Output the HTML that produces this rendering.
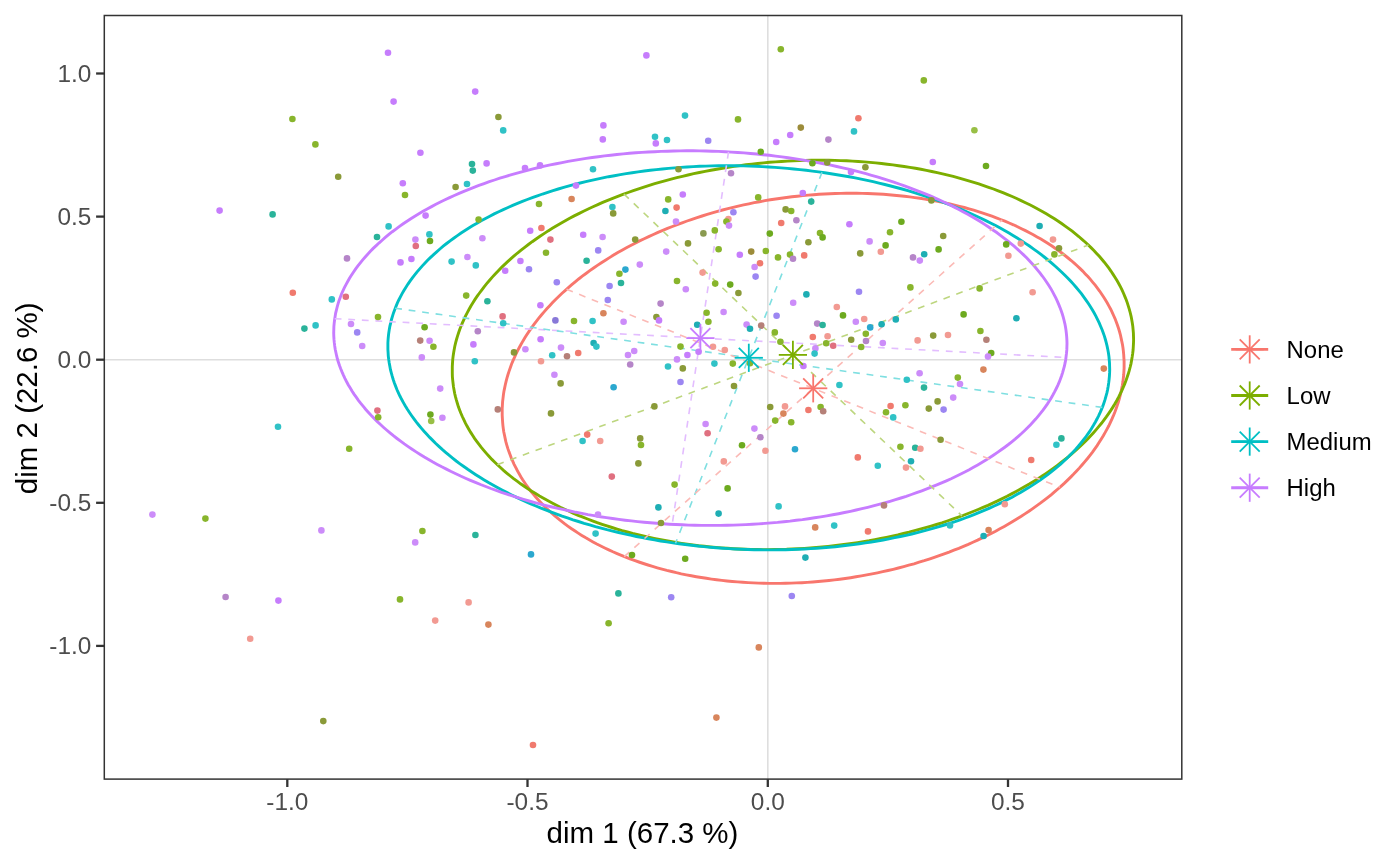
<!DOCTYPE html>
<html><head><meta charset="utf-8"><style>
html,body{margin:0;padding:0;background:#fff;}
svg{display:block;will-change:transform;}
text{font-family:"Liberation Sans",sans-serif;}
.tk{font-size:24.4px;fill:#4D4D4D;}
.ti{font-size:29.5px;fill:#000;}
.lg{font-size:24.4px;fill:#000;}
</style></head><body>
<svg width="1400" height="865" viewBox="0 0 1400 865">
<rect width="1400" height="865" fill="#fff"/>
<line x1="104.3" y1="359.7" x2="1181.8" y2="359.7" stroke="#DEDEDE" stroke-width="1.6"/>
<line x1="767.8" y1="15.5" x2="767.8" y2="779.1" stroke="#DEDEDE" stroke-width="1.6"/>
<path d="M625.7 557.1 L621.4 555.4 L617.1 553.6 L612.9 551.8 L608.8 549.9 L604.8 548.0 L600.8 546.0 L596.8 544.0 L593.0 541.9 L589.2 539.8 L585.4 537.6 L581.8 535.4 L578.2 533.1 L574.7 530.8 L571.2 528.5 L567.8 526.1 L564.5 523.7 L561.3 521.2 L558.2 518.7 L555.1 516.1 L552.1 513.5 L549.2 510.9 L546.4 508.2 L543.6 505.5 L541.0 502.8 L538.4 500.0 L535.9 497.2 L533.5 494.4 L531.1 491.5 L528.9 488.6 L526.7 485.7 L524.7 482.7 L522.7 479.7 L520.8 476.7 L519.0 473.6 L517.3 470.5 L515.7 467.4 L514.1 464.3 L512.7 461.2 L511.3 458.0 L510.1 454.8 L508.9 451.6 L507.8 448.4 L506.8 445.1 L505.9 441.9 L505.2 438.6 L504.5 435.3 L503.8 432.0 L503.3 428.6 L502.9 425.3 L502.6 422.0 L502.4 418.6 L502.2 415.2 L502.2 411.9 L502.2 408.5 L502.4 405.1 L502.6 401.7 L503.0 398.3 L503.4 394.9 L503.9 391.5 L504.6 388.1 L505.3 384.7 L506.1 381.3 L507.0 377.9 L508.0 374.5 L509.1 371.1 L510.3 367.7 L511.5 364.3 L512.9 360.9 L514.4 357.6 L515.9 354.2 L517.5 350.9 L519.3 347.5 L521.1 344.2 L523.0 340.9 L525.0 337.6 L527.1 334.3 L529.2 331.1 L531.5 327.8 L533.8 324.6 L536.3 321.4 L538.8 318.2 L541.4 315.0 L544.1 311.9 L546.8 308.8 L549.7 305.7 L552.6 302.6 L555.6 299.5 L558.7 296.5 L561.8 293.5 L565.1 290.6 L568.4 287.6 L571.8 284.7 L575.2 281.9 L578.7 279.0 L582.3 276.2 L586.0 273.5 L589.8 270.7 L593.6 268.0 L597.4 265.4 L601.4 262.7 L605.4 260.2 L609.5 257.6 L613.6 255.1 L617.8 252.6 L622.0 250.2 L626.4 247.8 L630.7 245.5 L635.1 243.2 L639.6 240.9 L644.2 238.7 L648.7 236.6 L653.4 234.5 L658.0 232.4 L662.8 230.4 L667.5 228.4 L672.4 226.5 L677.2 224.6 L682.1 222.8 L687.1 221.0 L692.0 219.3 L697.1 217.6 L702.1 216.0 L707.2 214.4 L712.3 212.9 L717.5 211.4 L722.6 210.0 L727.9 208.7 L733.1 207.4 L738.3 206.1 L743.6 204.9 L748.9 203.8 L754.2 202.7 L759.6 201.7 L764.9 200.7 L770.3 199.8 L775.7 199.0 L781.1 198.2 L786.5 197.5 L791.9 196.8 L797.3 196.2 L802.7 195.6 L808.2 195.1 L813.6 194.7 L819.0 194.3 L824.4 194.0 L829.9 193.7 L835.3 193.5 L840.7 193.4 L846.1 193.3 L851.5 193.2 L856.9 193.3 L862.2 193.4 L867.6 193.5 L872.9 193.7 L878.2 194.0 L883.5 194.3 L888.8 194.7 L894.0 195.2 L899.3 195.7 L904.5 196.3 L909.7 196.9 L914.8 197.6 L919.9 198.3 L925.0 199.1 L930.0 200.0 L935.0 200.9 L940.0 201.8 L945.0 202.9 L949.9 204.0 L954.7 205.1 L959.5 206.3 L964.3 207.5 L969.0 208.8 L973.7 210.2 L978.3 211.6 L982.9 213.1 L987.4 214.6 L991.9 216.2 L996.3 217.8 L1000.6 219.5 L1004.9 221.2 L1009.2 223.0 L1013.4 224.8 L1017.5 226.7 L1021.5 228.7 L1025.5 230.6 L1029.5 232.7 L1033.3 234.7 L1037.1 236.9 L1040.9 239.0 L1044.5 241.3 L1048.1 243.5 L1051.6 245.8 L1055.1 248.2 L1058.5 250.6 L1061.8 253.0 L1065.0 255.5 L1068.1 258.0 L1071.2 260.5 L1074.2 263.1 L1077.1 265.7 L1079.9 268.4 L1082.7 271.1 L1085.3 273.9 L1087.9 276.6 L1090.4 279.4 L1092.8 282.3 L1095.2 285.2 L1097.4 288.1 L1099.6 291.0 L1101.6 294.0 L1103.6 297.0 L1105.5 300.0 L1107.3 303.0 L1109.0 306.1 L1110.7 309.2 L1112.2 312.3 L1113.6 315.5 L1115.0 318.6 L1116.2 321.8 L1117.4 325.0 L1118.5 328.3 L1119.5 331.5 L1120.4 334.8 L1121.1 338.1 L1121.8 341.4 L1122.5 344.7 L1123.0 348.0 L1123.4 351.3 L1123.7 354.7 L1123.9 358.0 L1124.1 361.4 L1124.1 364.8 L1124.1 368.2 L1123.9 371.6 L1123.7 375.0 L1123.3 378.4 L1122.9 381.8 L1122.4 385.2 L1121.7 388.6 L1121.0 392.0 L1120.2 395.4 L1119.3 398.8 L1118.3 402.2 L1117.2 405.6 L1116.0 409.0 L1114.8 412.3 L1113.4 415.7 L1111.9 419.1 L1110.4 422.4 L1108.8 425.8 L1107.0 429.1 L1105.2 432.4 L1103.3 435.7 L1101.3 439.0 L1099.2 442.3 L1097.1 445.6 L1094.8 448.8 L1092.5 452.1 L1090.0 455.3 L1087.5 458.5 L1084.9 461.6 L1082.2 464.8 L1079.5 467.9 L1076.6 471.0 L1073.7 474.1 L1070.7 477.1 L1067.6 480.1 L1064.5 483.1 L1061.2 486.1 L1057.9 489.0 L1054.5 491.9 L1051.1 494.8 L1047.6 497.6 L1044.0 500.4 L1040.3 503.2 L1036.5 505.9 L1032.7 508.6 L1028.9 511.3 L1024.9 513.9 L1020.9 516.5 L1016.8 519.0 L1012.7 521.5 L1008.5 524.0 L1004.3 526.4 L999.9 528.8 L995.6 531.2 L991.2 533.5 L986.7 535.7 L982.2 537.9 L977.6 540.1 L972.9 542.2 L968.3 544.3 L963.5 546.3 L958.8 548.3 L953.9 550.2 L949.1 552.1 L944.2 553.9 L939.2 555.7 L934.3 557.4 L929.2 559.1 L924.2 560.7 L919.1 562.2 L914.0 563.8 L908.8 565.2 L903.7 566.6 L898.4 568.0 L893.2 569.3 L888.0 570.5 L882.7 571.7 L877.4 572.8 L872.1 573.9 L866.7 574.9 L861.4 575.9 L856.0 576.8 L850.6 577.7 L845.2 578.5 L839.8 579.2 L834.4 579.9 L829.0 580.5 L823.6 581.0 L818.1 581.5 L812.7 582.0 L807.3 582.4 L801.9 582.7 L796.4 582.9 L791.0 583.1 L785.6 583.3 L780.2 583.4 L774.8 583.4 L769.4 583.4 L764.1 583.3 L758.7 583.1 L753.4 582.9 L748.1 582.6 L742.8 582.3 L737.5 581.9 L732.3 581.5 L727.0 581.0 L721.8 580.4 L716.6 579.8 L711.5 579.1 L706.4 578.3 L701.3 577.5 L696.3 576.7 L691.3 575.8 L686.3 574.8 L681.3 573.8 L676.4 572.7 L671.6 571.5 L666.8 570.4 L662.0 569.1 L657.3 567.8 L652.6 566.4 L648.0 565.0 L643.4 563.5 L638.9 562.0 L634.4 560.4 L630.0 558.8 L625.7 557.1Z" fill="none" stroke="#F8766D" stroke-width="2.9"/>
<path d="M628.1 192.5 L622.9 194.4 L617.8 196.3 L612.7 198.3 L607.7 200.3 L602.7 202.4 L597.8 204.6 L593.0 206.8 L588.2 209.0 L583.5 211.2 L578.8 213.6 L574.2 215.9 L569.7 218.3 L565.3 220.8 L560.9 223.2 L556.6 225.8 L552.3 228.3 L548.1 230.9 L544.0 233.6 L540.0 236.2 L536.1 239.0 L532.2 241.7 L528.4 244.5 L524.7 247.3 L521.1 250.2 L517.5 253.0 L514.1 255.9 L510.7 258.9 L507.4 261.9 L504.2 264.9 L501.1 267.9 L498.1 270.9 L495.2 274.0 L492.3 277.1 L489.6 280.2 L486.9 283.4 L484.3 286.6 L481.9 289.8 L479.5 293.0 L477.2 296.2 L475.0 299.4 L472.9 302.7 L470.9 306.0 L469.1 309.3 L467.3 312.6 L465.6 315.9 L464.0 319.3 L462.5 322.6 L461.1 326.0 L459.8 329.3 L458.6 332.7 L457.5 336.1 L456.5 339.5 L455.6 342.8 L454.8 346.2 L454.2 349.6 L453.6 353.0 L453.1 356.4 L452.7 359.8 L452.5 363.2 L452.3 366.6 L452.3 370.0 L452.3 373.4 L452.4 376.8 L452.7 380.1 L453.1 383.5 L453.5 386.9 L454.1 390.2 L454.7 393.5 L455.5 396.9 L456.4 400.2 L457.4 403.5 L458.4 406.8 L459.6 410.0 L460.9 413.3 L462.3 416.5 L463.8 419.7 L465.3 422.9 L467.0 426.1 L468.8 429.2 L470.7 432.4 L472.7 435.5 L474.7 438.6 L476.9 441.6 L479.2 444.6 L481.5 447.6 L484.0 450.6 L486.6 453.6 L489.2 456.5 L491.9 459.4 L494.8 462.2 L497.7 465.0 L500.7 467.8 L503.8 470.6 L507.0 473.3 L510.3 476.0 L513.6 478.6 L517.1 481.2 L520.6 483.8 L524.2 486.3 L527.9 488.8 L531.7 491.2 L535.6 493.6 L539.5 496.0 L543.5 498.3 L547.6 500.6 L551.7 502.8 L556.0 505.0 L560.3 507.2 L564.7 509.3 L569.1 511.3 L573.6 513.3 L578.2 515.3 L582.9 517.2 L587.6 519.0 L592.4 520.8 L597.2 522.6 L602.1 524.3 L607.0 525.9 L612.0 527.5 L617.1 529.1 L622.2 530.6 L627.4 532.0 L632.6 533.4 L637.9 534.7 L643.2 536.0 L648.6 537.2 L654.0 538.4 L659.4 539.5 L664.9 540.5 L670.5 541.5 L676.0 542.5 L681.6 543.4 L687.3 544.2 L692.9 544.9 L698.6 545.7 L704.4 546.3 L710.1 546.9 L715.9 547.4 L721.7 547.9 L727.5 548.3 L733.4 548.7 L739.2 549.0 L745.1 549.2 L751.0 549.4 L756.9 549.5 L762.8 549.6 L768.7 549.6 L774.7 549.5 L780.6 549.4 L786.6 549.3 L792.5 549.0 L798.5 548.7 L804.4 548.4 L810.3 548.0 L816.3 547.5 L822.2 547.0 L828.1 546.4 L834.0 545.7 L839.9 545.0 L845.8 544.3 L851.7 543.5 L857.5 542.6 L863.3 541.6 L869.1 540.7 L874.9 539.6 L880.7 538.5 L886.4 537.3 L892.1 536.1 L897.8 534.9 L903.4 533.5 L909.0 532.2 L914.6 530.7 L920.1 529.2 L925.6 527.7 L931.1 526.1 L936.5 524.5 L941.9 522.8 L947.2 521.0 L952.5 519.2 L957.7 517.4 L962.9 515.5 L968.0 513.5 L973.1 511.5 L978.1 509.5 L983.1 507.4 L988.0 505.3 L992.8 503.1 L997.6 500.9 L1002.3 498.6 L1007.0 496.3 L1011.6 493.9 L1016.1 491.5 L1020.5 489.1 L1024.9 486.6 L1029.3 484.1 L1033.5 481.5 L1037.7 478.9 L1041.8 476.3 L1045.8 473.6 L1049.7 470.9 L1053.6 468.1 L1057.4 465.3 L1061.1 462.5 L1064.7 459.7 L1068.3 456.8 L1071.7 453.9 L1075.1 450.9 L1078.4 448.0 L1081.6 445.0 L1084.7 442.0 L1087.7 438.9 L1090.7 435.8 L1093.5 432.7 L1096.2 429.6 L1098.9 426.4 L1101.5 423.3 L1103.9 420.1 L1106.3 416.9 L1108.6 413.6 L1110.8 410.4 L1112.9 407.1 L1114.9 403.8 L1116.8 400.5 L1118.6 397.2 L1120.2 393.9 L1121.8 390.6 L1123.3 387.2 L1124.7 383.9 L1126.0 380.5 L1127.2 377.1 L1128.3 373.8 L1129.3 370.4 L1130.2 367.0 L1131.0 363.6 L1131.6 360.2 L1132.2 356.8 L1132.7 353.4 L1133.1 350.0 L1133.3 346.6 L1133.5 343.2 L1133.6 339.8 L1133.5 336.4 L1133.4 333.1 L1133.1 329.7 L1132.8 326.3 L1132.3 323.0 L1131.7 319.6 L1131.1 316.3 L1130.3 313.0 L1129.4 309.6 L1128.4 306.4 L1127.4 303.1 L1126.2 299.8 L1124.9 296.6 L1123.5 293.3 L1122.1 290.1 L1120.5 286.9 L1118.8 283.7 L1117.0 280.6 L1115.1 277.5 L1113.1 274.4 L1111.1 271.3 L1108.9 268.2 L1106.6 265.2 L1104.3 262.2 L1101.8 259.2 L1099.3 256.3 L1096.6 253.4 L1093.9 250.5 L1091.0 247.6 L1088.1 244.8 L1085.1 242.0 L1082.0 239.3 L1078.8 236.5 L1075.5 233.9 L1072.2 231.2 L1068.7 228.6 L1065.2 226.1 L1061.6 223.5 L1057.9 221.0 L1054.1 218.6 L1050.3 216.2 L1046.3 213.8 L1042.3 211.5 L1038.2 209.2 L1034.1 207.0 L1029.8 204.8 L1025.5 202.7 L1021.1 200.6 L1016.7 198.5 L1012.2 196.5 L1007.6 194.6 L1002.9 192.7 L998.2 190.8 L993.5 189.0 L988.6 187.3 L983.7 185.6 L978.8 183.9 L973.8 182.3 L968.7 180.8 L963.6 179.3 L958.4 177.8 L953.2 176.4 L947.9 175.1 L942.6 173.8 L937.2 172.6 L931.8 171.5 L926.4 170.3 L920.9 169.3 L915.4 168.3 L909.8 167.4 L904.2 166.5 L898.6 165.7 L892.9 164.9 L887.2 164.2 L881.5 163.5 L875.7 162.9 L869.9 162.4 L864.1 161.9 L858.3 161.5 L852.5 161.1 L846.6 160.8 L840.7 160.6 L834.8 160.4 L828.9 160.3 L823.0 160.2 L817.1 160.2 L811.1 160.3 L805.2 160.4 L799.2 160.6 L793.3 160.8 L787.4 161.1 L781.4 161.5 L775.5 161.9 L769.5 162.3 L763.6 162.9 L757.7 163.5 L751.8 164.1 L745.9 164.8 L740.0 165.6 L734.1 166.4 L728.3 167.3 L722.5 168.2 L716.7 169.2 L710.9 170.2 L705.1 171.3 L699.4 172.5 L693.7 173.7 L688.0 175.0 L682.4 176.3 L676.8 177.7 L671.2 179.1 L665.7 180.6 L660.2 182.1 L654.7 183.7 L649.3 185.4 L643.9 187.1 L638.6 188.8 L633.3 190.6 L628.1 192.5Z" fill="none" stroke="#7CAE00" stroke-width="2.9"/>
<path d="M824.7 172.8 L818.6 171.9 L812.4 171.1 L806.2 170.3 L799.9 169.6 L793.7 169.0 L787.4 168.4 L781.2 167.9 L774.9 167.4 L768.6 167.0 L762.3 166.6 L756.0 166.3 L749.7 166.1 L743.4 165.9 L737.1 165.8 L730.8 165.8 L724.5 165.8 L718.3 165.8 L712.0 165.9 L705.7 166.1 L699.5 166.3 L693.2 166.6 L687.0 167.0 L680.8 167.4 L674.7 167.9 L668.5 168.4 L662.4 169.0 L656.3 169.6 L650.2 170.3 L644.2 171.0 L638.1 171.9 L632.2 172.7 L626.2 173.6 L620.3 174.6 L614.4 175.7 L608.6 176.7 L602.8 177.9 L597.1 179.1 L591.4 180.4 L585.8 181.7 L580.2 183.0 L574.6 184.4 L569.1 185.9 L563.7 187.4 L558.3 189.0 L553.0 190.6 L547.7 192.3 L542.5 194.0 L537.4 195.8 L532.3 197.6 L527.3 199.5 L522.4 201.4 L517.5 203.4 L512.7 205.4 L508.0 207.5 L503.3 209.6 L498.7 211.7 L494.2 213.9 L489.8 216.2 L485.5 218.5 L481.2 220.8 L477.0 223.2 L472.9 225.6 L468.9 228.0 L465.0 230.5 L461.1 233.0 L457.4 235.6 L453.7 238.2 L450.1 240.8 L446.6 243.5 L443.2 246.2 L439.9 249.0 L436.7 251.8 L433.6 254.6 L430.6 257.4 L427.6 260.3 L424.8 263.2 L422.1 266.1 L419.5 269.1 L416.9 272.1 L414.5 275.1 L412.2 278.1 L410.0 281.2 L407.8 284.3 L405.8 287.4 L403.9 290.5 L402.1 293.6 L400.4 296.8 L398.8 300.0 L397.3 303.2 L396.0 306.4 L394.7 309.7 L393.5 312.9 L392.5 316.2 L391.5 319.5 L390.7 322.8 L389.9 326.1 L389.3 329.4 L388.8 332.7 L388.4 336.0 L388.1 339.3 L387.9 342.7 L387.9 346.0 L387.9 349.4 L388.1 352.7 L388.3 356.1 L388.7 359.4 L389.2 362.8 L389.8 366.1 L390.4 369.5 L391.3 372.8 L392.2 376.2 L393.2 379.5 L394.3 382.8 L395.6 386.1 L396.9 389.5 L398.4 392.8 L399.9 396.0 L401.6 399.3 L403.4 402.6 L405.2 405.8 L407.2 409.1 L409.3 412.3 L411.5 415.5 L413.8 418.7 L416.2 421.9 L418.7 425.0 L421.3 428.1 L424.0 431.3 L426.8 434.3 L429.7 437.4 L432.7 440.4 L435.8 443.5 L438.9 446.4 L442.2 449.4 L445.6 452.3 L449.0 455.2 L452.6 458.1 L456.2 461.0 L460.0 463.8 L463.8 466.5 L467.7 469.3 L471.7 472.0 L475.8 474.7 L479.9 477.3 L484.2 479.9 L488.5 482.5 L492.9 485.0 L497.4 487.5 L502.0 490.0 L506.6 492.4 L511.3 494.8 L516.1 497.1 L520.9 499.4 L525.8 501.6 L530.8 503.8 L535.9 506.0 L541.0 508.1 L546.2 510.1 L551.4 512.2 L556.7 514.1 L562.1 516.1 L567.5 517.9 L573.0 519.8 L578.5 521.5 L584.1 523.3 L589.7 524.9 L595.4 526.6 L601.1 528.1 L606.9 529.7 L612.7 531.1 L618.6 532.5 L624.5 533.9 L630.4 535.2 L636.4 536.5 L642.4 537.7 L648.4 538.8 L654.5 539.9 L660.6 541.0 L666.7 541.9 L672.8 542.9 L679.0 543.7 L685.2 544.5 L691.4 545.3 L697.6 546.0 L703.9 546.6 L710.1 547.2 L716.4 547.7 L722.7 548.2 L728.9 548.6 L735.2 549.0 L741.5 549.3 L747.8 549.5 L754.1 549.7 L760.4 549.8 L766.7 549.9 L773.0 549.9 L779.3 549.8 L785.6 549.7 L791.8 549.5 L798.1 549.3 L804.3 549.0 L810.5 548.6 L816.7 548.2 L822.9 547.8 L829.0 547.2 L835.2 546.7 L841.3 546.0 L847.3 545.3 L853.4 544.6 L859.4 543.8 L865.4 542.9 L871.3 542.0 L877.2 541.0 L883.1 540.0 L888.9 538.9 L894.7 537.7 L900.4 536.5 L906.1 535.3 L911.8 534.0 L917.4 532.6 L922.9 531.2 L928.4 529.7 L933.8 528.2 L939.2 526.6 L944.5 525.0 L949.8 523.3 L955.0 521.6 L960.1 519.8 L965.2 518.0 L970.2 516.1 L975.2 514.2 L980.0 512.2 L984.8 510.2 L989.6 508.1 L994.2 506.0 L998.8 503.9 L1003.3 501.7 L1007.7 499.4 L1012.1 497.2 L1016.3 494.8 L1020.5 492.5 L1024.6 490.0 L1028.7 487.6 L1032.6 485.1 L1036.4 482.6 L1040.2 480.0 L1043.9 477.4 L1047.4 474.8 L1050.9 472.1 L1054.3 469.4 L1057.6 466.6 L1060.9 463.9 L1064.0 461.0 L1067.0 458.2 L1069.9 455.3 L1072.7 452.4 L1075.5 449.5 L1078.1 446.5 L1080.6 443.5 L1083.0 440.5 L1085.4 437.5 L1087.6 434.4 L1089.7 431.4 L1091.7 428.2 L1093.6 425.1 L1095.4 422.0 L1097.1 418.8 L1098.7 415.6 L1100.2 412.4 L1101.6 409.2 L1102.9 405.9 L1104.0 402.7 L1105.1 399.4 L1106.0 396.1 L1106.9 392.9 L1107.6 389.6 L1108.2 386.2 L1108.7 382.9 L1109.1 379.6 L1109.4 376.3 L1109.6 372.9 L1109.7 369.6 L1109.6 366.2 L1109.5 362.9 L1109.2 359.5 L1108.9 356.2 L1108.4 352.8 L1107.8 349.5 L1107.1 346.1 L1106.3 342.8 L1105.4 339.5 L1104.4 336.1 L1103.2 332.8 L1102.0 329.5 L1100.6 326.2 L1099.2 322.9 L1097.6 319.6 L1096.0 316.3 L1094.2 313.0 L1092.3 309.8 L1090.3 306.5 L1088.2 303.3 L1086.0 300.1 L1083.7 296.9 L1081.4 293.7 L1078.9 290.6 L1076.3 287.5 L1073.6 284.4 L1070.8 281.3 L1067.9 278.2 L1064.9 275.2 L1061.8 272.2 L1058.6 269.2 L1055.3 266.2 L1052.0 263.3 L1048.5 260.4 L1044.9 257.5 L1041.3 254.7 L1037.6 251.8 L1033.7 249.1 L1029.8 246.3 L1025.8 243.6 L1021.8 240.9 L1017.6 238.3 L1013.4 235.7 L1009.0 233.1 L1004.6 230.6 L1000.2 228.1 L995.6 225.6 L991.0 223.2 L986.3 220.9 L981.5 218.5 L976.6 216.2 L971.7 214.0 L966.7 211.8 L961.7 209.6 L956.5 207.5 L951.4 205.5 L946.1 203.5 L940.8 201.5 L935.5 199.6 L930.0 197.7 L924.6 195.9 L919.0 194.1 L913.5 192.4 L907.8 190.7 L902.1 189.0 L896.4 187.5 L890.7 186.0 L884.8 184.5 L879.0 183.1 L873.1 181.7 L867.2 180.4 L861.2 179.1 L855.2 177.9 L849.2 176.8 L843.1 175.7 L837.0 174.7 L830.9 173.7 L824.7 172.8Z" fill="none" stroke="#00BFC4" stroke-width="2.9"/>
<path d="M731.3 152.1 L724.9 151.7 L718.5 151.4 L712.2 151.2 L705.8 151.0 L699.4 150.9 L693.0 150.8 L686.6 150.8 L680.2 150.9 L673.8 151.0 L667.4 151.2 L661.0 151.4 L654.7 151.7 L648.3 152.0 L642.0 152.4 L635.7 152.8 L629.4 153.3 L623.2 153.9 L616.9 154.5 L610.7 155.2 L604.5 155.9 L598.3 156.7 L592.2 157.5 L586.1 158.4 L580.1 159.4 L574.0 160.4 L568.0 161.4 L562.1 162.6 L556.2 163.7 L550.3 164.9 L544.5 166.2 L538.7 167.5 L533.0 168.9 L527.4 170.3 L521.7 171.8 L516.2 173.3 L510.7 174.9 L505.2 176.6 L499.8 178.2 L494.5 180.0 L489.3 181.7 L484.1 183.6 L478.9 185.4 L473.9 187.3 L468.9 189.3 L463.9 191.3 L459.1 193.4 L454.3 195.5 L449.6 197.6 L445.0 199.8 L440.4 202.0 L435.9 204.3 L431.6 206.6 L427.2 208.9 L423.0 211.3 L418.9 213.7 L414.8 216.2 L410.8 218.7 L407.0 221.2 L403.2 223.8 L399.5 226.4 L395.9 229.1 L392.3 231.7 L388.9 234.4 L385.6 237.2 L382.4 240.0 L379.2 242.8 L376.2 245.6 L373.2 248.4 L370.4 251.3 L367.7 254.2 L365.0 257.2 L362.5 260.1 L360.1 263.1 L357.7 266.1 L355.5 269.1 L353.4 272.2 L351.4 275.3 L349.5 278.3 L347.7 281.5 L346.0 284.6 L344.4 287.7 L342.9 290.9 L341.5 294.0 L340.3 297.2 L339.1 300.4 L338.1 303.6 L337.2 306.9 L336.4 310.1 L335.6 313.3 L335.1 316.6 L334.6 319.8 L334.2 323.1 L333.9 326.3 L333.8 329.6 L333.7 332.9 L333.8 336.1 L334.0 339.4 L334.3 342.7 L334.7 345.9 L335.2 349.2 L335.9 352.5 L336.6 355.7 L337.4 359.0 L338.4 362.2 L339.5 365.5 L340.7 368.7 L342.0 371.9 L343.4 375.1 L344.9 378.3 L346.5 381.5 L348.2 384.7 L350.1 387.8 L352.0 391.0 L354.0 394.1 L356.2 397.2 L358.4 400.3 L360.8 403.4 L363.3 406.4 L365.8 409.5 L368.5 412.5 L371.3 415.5 L374.2 418.4 L377.1 421.4 L380.2 424.3 L383.4 427.2 L386.6 430.0 L390.0 432.9 L393.4 435.7 L397.0 438.5 L400.6 441.2 L404.3 443.9 L408.2 446.6 L412.1 449.2 L416.1 451.9 L420.2 454.4 L424.3 457.0 L428.6 459.5 L432.9 462.0 L437.3 464.4 L441.8 466.8 L446.4 469.1 L451.1 471.5 L455.8 473.7 L460.6 476.0 L465.5 478.2 L470.4 480.3 L475.4 482.4 L480.5 484.5 L485.7 486.5 L490.9 488.5 L496.2 490.4 L501.5 492.3 L506.9 494.1 L512.4 495.9 L517.9 497.6 L523.5 499.3 L529.1 501.0 L534.8 502.6 L540.5 504.1 L546.3 505.6 L552.1 507.0 L558.0 508.4 L563.9 509.7 L569.9 511.0 L575.9 512.3 L581.9 513.4 L588.0 514.6 L594.1 515.6 L600.3 516.7 L606.4 517.6 L612.6 518.5 L618.9 519.4 L625.1 520.2 L631.4 520.9 L637.7 521.6 L644.0 522.2 L650.3 522.8 L656.7 523.3 L663.0 523.8 L669.4 524.2 L675.8 524.5 L682.2 524.8 L688.6 525.1 L694.9 525.2 L701.3 525.4 L707.7 525.4 L714.1 525.4 L720.5 525.4 L726.9 525.3 L733.3 525.1 L739.7 524.9 L746.0 524.6 L752.4 524.3 L758.7 523.9 L765.0 523.4 L771.3 522.9 L777.5 522.4 L783.8 521.7 L790.0 521.1 L796.2 520.3 L802.4 519.6 L808.5 518.7 L814.6 517.8 L820.7 516.9 L826.7 515.9 L832.7 514.8 L838.6 513.7 L844.5 512.5 L850.4 511.3 L856.2 510.0 L862.0 508.7 L867.7 507.3 L873.3 505.9 L879.0 504.4 L884.5 502.9 L890.0 501.3 L895.5 499.7 L900.9 498.0 L906.2 496.3 L911.4 494.5 L916.6 492.7 L921.8 490.8 L926.8 488.9 L931.8 486.9 L936.8 484.9 L941.6 482.9 L946.4 480.8 L951.1 478.7 L955.7 476.5 L960.3 474.2 L964.8 472.0 L969.2 469.7 L973.5 467.3 L977.7 464.9 L981.8 462.5 L985.9 460.1 L989.9 457.5 L993.7 455.0 L997.5 452.4 L1001.2 449.8 L1004.8 447.2 L1008.4 444.5 L1011.8 441.8 L1015.1 439.1 L1018.3 436.3 L1021.5 433.5 L1024.5 430.7 L1027.5 427.8 L1030.3 424.9 L1033.0 422.0 L1035.7 419.1 L1038.2 416.1 L1040.6 413.2 L1043.0 410.1 L1045.2 407.1 L1047.3 404.1 L1049.3 401.0 L1051.2 397.9 L1053.0 394.8 L1054.7 391.7 L1056.3 388.5 L1057.8 385.4 L1059.2 382.2 L1060.4 379.0 L1061.6 375.8 L1062.6 372.6 L1063.5 369.4 L1064.4 366.2 L1065.1 362.9 L1065.7 359.7 L1066.1 356.4 L1066.5 353.2 L1066.8 349.9 L1066.9 346.7 L1067.0 343.4 L1066.9 340.1 L1066.7 336.9 L1066.4 333.6 L1066.0 330.3 L1065.5 327.1 L1064.9 323.8 L1064.1 320.5 L1063.3 317.3 L1062.3 314.0 L1061.2 310.8 L1060.0 307.6 L1058.7 304.4 L1057.3 301.1 L1055.8 297.9 L1054.2 294.8 L1052.5 291.6 L1050.7 288.4 L1048.7 285.3 L1046.7 282.2 L1044.5 279.0 L1042.3 276.0 L1039.9 272.9 L1037.4 269.8 L1034.9 266.8 L1032.2 263.8 L1029.4 260.8 L1026.6 257.8 L1023.6 254.9 L1020.5 252.0 L1017.4 249.1 L1014.1 246.2 L1010.7 243.4 L1007.3 240.6 L1003.7 237.8 L1000.1 235.1 L996.4 232.3 L992.5 229.7 L988.6 227.0 L984.6 224.4 L980.6 221.8 L976.4 219.3 L972.1 216.8 L967.8 214.3 L963.4 211.9 L958.9 209.5 L954.3 207.1 L949.7 204.8 L944.9 202.5 L940.1 200.3 L935.2 198.1 L930.3 195.9 L925.3 193.8 L920.2 191.8 L915.0 189.8 L909.8 187.8 L904.5 185.9 L899.2 184.0 L893.8 182.1 L888.3 180.4 L882.8 178.6 L877.2 176.9 L871.6 175.3 L865.9 173.7 L860.2 172.2 L854.4 170.7 L848.6 169.2 L842.7 167.8 L836.8 166.5 L830.8 165.2 L824.8 164.0 L818.8 162.8 L812.7 161.7 L806.6 160.6 L800.5 159.6 L794.3 158.6 L788.1 157.7 L781.9 156.9 L775.6 156.1 L769.3 155.3 L763.0 154.7 L756.7 154.0 L750.4 153.5 L744.0 152.9 L737.7 152.5 L731.3 152.1Z" fill="none" stroke="#C77CFF" stroke-width="2.9"/>
<line x1="334.7" y1="318.7" x2="1066.0" y2="357.5" stroke="#E3BDFF" stroke-width="1.6" stroke-dasharray="6.8 6.8"/>
<line x1="728.5" y1="151.9" x2="672.2" y2="524.3" stroke="#E3BDFF" stroke-width="1.6" stroke-dasharray="6.8 6.8"/>
<line x1="395.2" y1="308.2" x2="1102.3" y2="407.4" stroke="#7FDFE1" stroke-width="1.6" stroke-dasharray="6.8 6.8"/>
<line x1="822.0" y1="172.4" x2="675.5" y2="543.3" stroke="#7FDFE1" stroke-width="1.6" stroke-dasharray="6.8 6.8"/>
<line x1="497.3" y1="464.7" x2="1088.5" y2="245.1" stroke="#BDD67F" stroke-width="1.6" stroke-dasharray="6.8 6.8"/>
<line x1="623.9" y1="194.0" x2="961.9" y2="515.8" stroke="#BDD67F" stroke-width="1.6" stroke-dasharray="6.8 6.8"/>
<line x1="566.5" y1="289.3" x2="1059.8" y2="487.3" stroke="#FBBAB6" stroke-width="1.6" stroke-dasharray="6.8 6.8"/>
<line x1="624.2" y1="556.6" x2="1002.1" y2="220.1" stroke="#FBBAB6" stroke-width="1.6" stroke-dasharray="6.8 6.8"/>
<circle cx="388" cy="52.7" r="3.3" fill="#C67DFC"/>
<circle cx="393.6" cy="101.6" r="3.3" fill="#C67DFC"/>
<circle cx="292.4" cy="119" r="3.3" fill="#88B52C"/>
<circle cx="315.4" cy="144.4" r="3.3" fill="#88B52C"/>
<circle cx="338.2" cy="176.8" r="3.3" fill="#8A9A38"/>
<circle cx="646.4" cy="55.4" r="3.3" fill="#C67DFC"/>
<circle cx="475.2" cy="91.6" r="3.3" fill="#C67DFC"/>
<circle cx="498.4" cy="117" r="3.3" fill="#8A9A38"/>
<circle cx="503.2" cy="130.4" r="3.3" fill="#30C2C6"/>
<circle cx="603.4" cy="125.4" r="3.3" fill="#C67DFC"/>
<circle cx="602.8" cy="139.4" r="3.3" fill="#C67DFC"/>
<circle cx="655" cy="136.8" r="3.3" fill="#30C2C6"/>
<circle cx="667" cy="140" r="3.3" fill="#30C2C6"/>
<circle cx="655.8" cy="143.4" r="3.3" fill="#C67DFC"/>
<circle cx="420.4" cy="152.8" r="3.3" fill="#C67DFC"/>
<circle cx="472" cy="164" r="3.3" fill="#2AB39A"/>
<circle cx="472.8" cy="170.6" r="3.3" fill="#2AB39A"/>
<circle cx="486.6" cy="163.4" r="3.3" fill="#C67DFC"/>
<circle cx="525" cy="168" r="3.3" fill="#C67DFC"/>
<circle cx="540" cy="165.4" r="3.3" fill="#C67DFC"/>
<circle cx="593" cy="169.2" r="3.3" fill="#30C2C6"/>
<circle cx="678.5" cy="169.2" r="3.3" fill="#8A9A38"/>
<circle cx="402.8" cy="183.2" r="3.3" fill="#C67DFC"/>
<circle cx="455.6" cy="187" r="3.3" fill="#8A9A38"/>
<circle cx="467" cy="184" r="3.3" fill="#30C2C6"/>
<circle cx="576" cy="185.6" r="3.3" fill="#C67DFC"/>
<circle cx="405" cy="195" r="3.3" fill="#88B52C"/>
<circle cx="780.8" cy="49.2" r="3.3" fill="#88B52C"/>
<circle cx="923.8" cy="80.4" r="3.3" fill="#88B52C"/>
<circle cx="685" cy="115.6" r="3.3" fill="#30C2C6"/>
<circle cx="738" cy="119.4" r="3.3" fill="#88B52C"/>
<circle cx="858.4" cy="118.2" r="3.3" fill="#F07A6E"/>
<circle cx="800.8" cy="127.6" r="3.3" fill="#9C8C3A"/>
<circle cx="790.2" cy="135" r="3.3" fill="#C67DFC"/>
<circle cx="776.2" cy="142" r="3.3" fill="#C67DFC"/>
<circle cx="854" cy="131.4" r="3.3" fill="#30C2C6"/>
<circle cx="708.2" cy="140.8" r="3.3" fill="#9C86F2"/>
<circle cx="828.4" cy="139.6" r="3.3" fill="#B585C8"/>
<circle cx="760.8" cy="151.8" r="3.3" fill="#6DAA1F"/>
<circle cx="812.4" cy="163.2" r="3.3" fill="#6DAA1F"/>
<circle cx="827.2" cy="162.4" r="3.3" fill="#8A9A38"/>
<circle cx="865.4" cy="167.2" r="3.3" fill="#8A9A38"/>
<circle cx="932.8" cy="162" r="3.3" fill="#C67DFC"/>
<circle cx="731" cy="173.2" r="3.3" fill="#B585C8"/>
<circle cx="851" cy="172" r="3.3" fill="#C67DFC"/>
<circle cx="682.8" cy="194.5" r="3.3" fill="#C67DFC"/>
<circle cx="802.8" cy="193" r="3.3" fill="#C67DFC"/>
<circle cx="974.4" cy="130.2" r="3.3" fill="#98BF45"/>
<circle cx="986" cy="166" r="3.3" fill="#6DAA1F"/>
<circle cx="219.6" cy="210.6" r="3.3" fill="#C67DFC"/>
<circle cx="272.6" cy="214.4" r="3.3" fill="#2AB39A"/>
<circle cx="388.6" cy="226.4" r="3.3" fill="#30C2C6"/>
<circle cx="377" cy="237" r="3.3" fill="#2AB39A"/>
<circle cx="347" cy="258.4" r="3.3" fill="#B585C8"/>
<circle cx="400.5" cy="262.4" r="3.3" fill="#C67DFC"/>
<circle cx="292.8" cy="292.8" r="3.3" fill="#F07A6E"/>
<circle cx="331.8" cy="299.4" r="3.3" fill="#30C2C6"/>
<circle cx="345.8" cy="296.8" r="3.3" fill="#E07080"/>
<circle cx="378" cy="317" r="3.3" fill="#88B52C"/>
<circle cx="304.4" cy="328.6" r="3.3" fill="#2AB39A"/>
<circle cx="315.6" cy="325.4" r="3.3" fill="#30C2C6"/>
<circle cx="351" cy="324" r="3.3" fill="#CC8CF9"/>
<circle cx="357.2" cy="332.4" r="3.3" fill="#9C86F2"/>
<circle cx="362.2" cy="346" r="3.3" fill="#CC8CF9"/>
<circle cx="425.6" cy="215.6" r="3.3" fill="#C67DFC"/>
<circle cx="429.4" cy="234.4" r="3.3" fill="#30C2C6"/>
<circle cx="430" cy="241" r="3.3" fill="#6DAA1F"/>
<circle cx="415.4" cy="239.6" r="3.3" fill="#CC8CF9"/>
<circle cx="415.8" cy="246" r="3.3" fill="#E07080"/>
<circle cx="411.4" cy="259" r="3.3" fill="#C67DFC"/>
<circle cx="478.6" cy="219.6" r="3.3" fill="#88B52C"/>
<circle cx="482.4" cy="238.2" r="3.3" fill="#CC8CF9"/>
<circle cx="451.6" cy="261.6" r="3.3" fill="#30C2C6"/>
<circle cx="467.4" cy="257" r="3.3" fill="#CC8CF9"/>
<circle cx="475.8" cy="265.4" r="3.3" fill="#30C2C6"/>
<circle cx="539" cy="204" r="3.3" fill="#88B52C"/>
<circle cx="571.6" cy="199" r="3.3" fill="#D8855C"/>
<circle cx="612.4" cy="207" r="3.3" fill="#30C2C6"/>
<circle cx="613.2" cy="213.4" r="3.3" fill="#8A9A38"/>
<circle cx="668.2" cy="199.4" r="3.3" fill="#88B52C"/>
<circle cx="665.4" cy="211" r="3.3" fill="#1EAEB4"/>
<circle cx="676.6" cy="207.6" r="3.3" fill="#F07A6E"/>
<circle cx="676" cy="221.6" r="3.3" fill="#CC8CF9"/>
<circle cx="530.2" cy="230.8" r="3.3" fill="#C67DFC"/>
<circle cx="541.4" cy="228" r="3.3" fill="#F07A6E"/>
<circle cx="550.4" cy="239.6" r="3.3" fill="#E07080"/>
<circle cx="546" cy="252.8" r="3.3" fill="#88B52C"/>
<circle cx="583.2" cy="234.8" r="3.3" fill="#C67DFC"/>
<circle cx="602.6" cy="237" r="3.3" fill="#CC8CF9"/>
<circle cx="598.2" cy="250.4" r="3.3" fill="#9C86F2"/>
<circle cx="635.2" cy="239.6" r="3.3" fill="#8A9A38"/>
<circle cx="666.2" cy="251.6" r="3.3" fill="#CC8CF9"/>
<circle cx="520.4" cy="261" r="3.3" fill="#C67DFC"/>
<circle cx="529" cy="269.2" r="3.3" fill="#9C86F2"/>
<circle cx="505.2" cy="270.8" r="3.3" fill="#C67DFC"/>
<circle cx="586.6" cy="260.8" r="3.3" fill="#2AB39A"/>
<circle cx="639.8" cy="264.6" r="3.3" fill="#CC8CF9"/>
<circle cx="625.4" cy="269.6" r="3.3" fill="#2BA8CF"/>
<circle cx="619.4" cy="273.8" r="3.3" fill="#88B52C"/>
<circle cx="621" cy="283" r="3.3" fill="#2AB39A"/>
<circle cx="556.8" cy="282.2" r="3.3" fill="#9C86F2"/>
<circle cx="609.6" cy="286" r="3.3" fill="#9C86F2"/>
<circle cx="677" cy="281" r="3.3" fill="#88B52C"/>
<circle cx="466.2" cy="295.6" r="3.3" fill="#88B52C"/>
<circle cx="487.4" cy="301.2" r="3.3" fill="#2AB39A"/>
<circle cx="540.4" cy="305.2" r="3.3" fill="#C67DFC"/>
<circle cx="607.8" cy="300" r="3.3" fill="#9C86F2"/>
<circle cx="660.6" cy="303.6" r="3.3" fill="#B585C8"/>
<circle cx="603.4" cy="313.2" r="3.3" fill="#D8855C"/>
<circle cx="656.4" cy="317" r="3.3" fill="#8A9A38"/>
<circle cx="659" cy="320.4" r="3.3" fill="#C67DFC"/>
<circle cx="623.6" cy="321.8" r="3.3" fill="#CC8CF9"/>
<circle cx="502.6" cy="316.4" r="3.3" fill="#E07080"/>
<circle cx="503.2" cy="323.2" r="3.3" fill="#30C2C6"/>
<circle cx="555.4" cy="320.4" r="3.3" fill="#8878D8"/>
<circle cx="574" cy="321" r="3.3" fill="#88B52C"/>
<circle cx="592.6" cy="321" r="3.3" fill="#30C2C6"/>
<circle cx="424.6" cy="327.2" r="3.3" fill="#6DAA1F"/>
<circle cx="477.8" cy="331.2" r="3.3" fill="#B585C8"/>
<circle cx="420.2" cy="340.6" r="3.3" fill="#B58078"/>
<circle cx="429.6" cy="340.8" r="3.3" fill="#CC8CF9"/>
<circle cx="433.4" cy="346.8" r="3.3" fill="#88B52C"/>
<circle cx="473.4" cy="344.4" r="3.3" fill="#C67DFC"/>
<circle cx="421.8" cy="357.4" r="3.3" fill="#CC8CF9"/>
<circle cx="474.8" cy="361.2" r="3.3" fill="#30C2C6"/>
<circle cx="540.6" cy="339.2" r="3.3" fill="#C67DFC"/>
<circle cx="525.4" cy="349.2" r="3.3" fill="#CC8CF9"/>
<circle cx="514" cy="352.4" r="3.3" fill="#8A9A38"/>
<circle cx="561" cy="347.6" r="3.3" fill="#CC8CF9"/>
<circle cx="552.2" cy="355.2" r="3.3" fill="#30C2C6"/>
<circle cx="567" cy="356.2" r="3.3" fill="#B58078"/>
<circle cx="578.2" cy="353" r="3.3" fill="#F07A6E"/>
<circle cx="541" cy="361.2" r="3.3" fill="#F29A92"/>
<circle cx="593.6" cy="343" r="3.3" fill="#1EAEB4"/>
<circle cx="596.4" cy="346.6" r="3.3" fill="#30C2C6"/>
<circle cx="628" cy="355" r="3.3" fill="#CC8CF9"/>
<circle cx="634.2" cy="351" r="3.3" fill="#CC8CF9"/>
<circle cx="630.2" cy="364.5" r="3.3" fill="#B585C8"/>
<circle cx="677" cy="359.4" r="3.3" fill="#CC8CF9"/>
<circle cx="680.5" cy="346.6" r="3.3" fill="#88B52C"/>
<circle cx="668" cy="366.5" r="3.3" fill="#30C2C6"/>
<circle cx="758.2" cy="197.4" r="3.3" fill="#88B52C"/>
<circle cx="811.2" cy="201.6" r="3.3" fill="#2AB39A"/>
<circle cx="931.4" cy="200.4" r="3.3" fill="#8A9A38"/>
<circle cx="733.4" cy="212.2" r="3.3" fill="#9C86F2"/>
<circle cx="728.4" cy="219" r="3.3" fill="#F29A92"/>
<circle cx="726.4" cy="221.6" r="3.3" fill="#88B52C"/>
<circle cx="729" cy="225.6" r="3.3" fill="#CC8CF9"/>
<circle cx="703.4" cy="233.4" r="3.3" fill="#8A9A50"/>
<circle cx="714.8" cy="230.4" r="3.3" fill="#88B52C"/>
<circle cx="688" cy="243.4" r="3.3" fill="#8A9A38"/>
<circle cx="718.6" cy="249.2" r="3.3" fill="#88B52C"/>
<circle cx="785.6" cy="209.4" r="3.3" fill="#8A9A38"/>
<circle cx="791.2" cy="211" r="3.3" fill="#88B52C"/>
<circle cx="781.2" cy="223" r="3.3" fill="#F07A6E"/>
<circle cx="796.4" cy="220.2" r="3.3" fill="#B585C8"/>
<circle cx="769.8" cy="233.6" r="3.3" fill="#6DAA1F"/>
<circle cx="849.4" cy="224.2" r="3.3" fill="#C67DFC"/>
<circle cx="901.4" cy="221.8" r="3.3" fill="#6DAA1F"/>
<circle cx="890" cy="232.2" r="3.3" fill="#88B52C"/>
<circle cx="943.2" cy="236" r="3.3" fill="#8A9A38"/>
<circle cx="820" cy="233" r="3.3" fill="#88B52C"/>
<circle cx="822.6" cy="237.4" r="3.3" fill="#6DAA1F"/>
<circle cx="808.4" cy="242.2" r="3.3" fill="#8A9A38"/>
<circle cx="869.6" cy="241.4" r="3.3" fill="#CC8CF9"/>
<circle cx="885.6" cy="245.4" r="3.3" fill="#6DAA1F"/>
<circle cx="880.8" cy="251.8" r="3.3" fill="#F29A92"/>
<circle cx="860.2" cy="253.4" r="3.3" fill="#8A9A38"/>
<circle cx="938.6" cy="249.4" r="3.3" fill="#6DAA1F"/>
<circle cx="924.2" cy="254.2" r="3.3" fill="#1EAEB4"/>
<circle cx="913" cy="257.4" r="3.3" fill="#B585C8"/>
<circle cx="919.8" cy="260.6" r="3.3" fill="#CC8CF9"/>
<circle cx="739.8" cy="254.8" r="3.3" fill="#C67DFC"/>
<circle cx="751.2" cy="251.6" r="3.3" fill="#9C8C3A"/>
<circle cx="765.8" cy="251" r="3.3" fill="#88B52C"/>
<circle cx="778" cy="257.4" r="3.3" fill="#88B52C"/>
<circle cx="790" cy="254.6" r="3.3" fill="#88B52C"/>
<circle cx="793" cy="258.8" r="3.3" fill="#B585C8"/>
<circle cx="804.2" cy="255.4" r="3.3" fill="#F07A6E"/>
<circle cx="760" cy="263.2" r="3.3" fill="#F07A6E"/>
<circle cx="754.6" cy="267" r="3.3" fill="#CC8CF9"/>
<circle cx="755.6" cy="276.6" r="3.3" fill="#9C86F2"/>
<circle cx="702.6" cy="272.6" r="3.3" fill="#F29A92"/>
<circle cx="715.2" cy="283.6" r="3.3" fill="#88B52C"/>
<circle cx="730.2" cy="284.6" r="3.3" fill="#6DAA1F"/>
<circle cx="738.4" cy="293" r="3.3" fill="#8A9A38"/>
<circle cx="685.8" cy="289.2" r="3.3" fill="#CC8CF9"/>
<circle cx="806.4" cy="294.4" r="3.3" fill="#1EAEB4"/>
<circle cx="793.2" cy="302.8" r="3.3" fill="#CC8CF9"/>
<circle cx="859" cy="291.8" r="3.3" fill="#9C86F2"/>
<circle cx="910.4" cy="287.4" r="3.3" fill="#88B52C"/>
<circle cx="836.8" cy="307" r="3.3" fill="#F29A92"/>
<circle cx="843" cy="315.4" r="3.3" fill="#6DAA1F"/>
<circle cx="855.8" cy="321.8" r="3.3" fill="#CC8CF9"/>
<circle cx="864.2" cy="319" r="3.3" fill="#F29A92"/>
<circle cx="776.6" cy="315.8" r="3.3" fill="#9C86F2"/>
<circle cx="817.2" cy="323.6" r="3.3" fill="#B585C8"/>
<circle cx="822.6" cy="325" r="3.3" fill="#2AB39A"/>
<circle cx="870.2" cy="327.4" r="3.3" fill="#2BA8CF"/>
<circle cx="881.6" cy="324.2" r="3.3" fill="#1EAEB4"/>
<circle cx="895.8" cy="319.4" r="3.3" fill="#1EAEB4"/>
<circle cx="706.6" cy="312.8" r="3.3" fill="#88B52C"/>
<circle cx="723.6" cy="312" r="3.3" fill="#CC8CF9"/>
<circle cx="708.4" cy="321.8" r="3.3" fill="#88B52C"/>
<circle cx="697.2" cy="324.8" r="3.3" fill="#1EAEB4"/>
<circle cx="746.6" cy="324.6" r="3.3" fill="#CC8CF9"/>
<circle cx="750" cy="328.8" r="3.3" fill="#1EAEB4"/>
<circle cx="761.2" cy="325.6" r="3.3" fill="#B58078"/>
<circle cx="774.8" cy="332.4" r="3.3" fill="#88B52C"/>
<circle cx="812.8" cy="337" r="3.3" fill="#F07A6E"/>
<circle cx="827.6" cy="336.2" r="3.3" fill="#F29A92"/>
<circle cx="865.8" cy="333.8" r="3.3" fill="#88B52C"/>
<circle cx="851.2" cy="339.8" r="3.3" fill="#8A9A38"/>
<circle cx="866" cy="341" r="3.3" fill="#B585C8"/>
<circle cx="826.2" cy="343.2" r="3.3" fill="#88B52C"/>
<circle cx="833.2" cy="345.8" r="3.3" fill="#E07080"/>
<circle cx="861.2" cy="347" r="3.3" fill="#88B52C"/>
<circle cx="882.8" cy="343" r="3.3" fill="#CC8CF9"/>
<circle cx="917.6" cy="340.4" r="3.3" fill="#F29A92"/>
<circle cx="933.2" cy="335.6" r="3.3" fill="#8A9A38"/>
<circle cx="948" cy="335" r="3.3" fill="#F29A92"/>
<circle cx="780.4" cy="341.8" r="3.3" fill="#88B52C"/>
<circle cx="815.4" cy="348.4" r="3.3" fill="#CC8CF9"/>
<circle cx="814.6" cy="353.6" r="3.3" fill="#30C2C6"/>
<circle cx="713" cy="346.8" r="3.3" fill="#F29A92"/>
<circle cx="724.8" cy="350" r="3.3" fill="#F29A92"/>
<circle cx="698.6" cy="351.8" r="3.3" fill="#C67DFC"/>
<circle cx="687.4" cy="355" r="3.3" fill="#C67DFC"/>
<circle cx="714.4" cy="363.6" r="3.3" fill="#30C2C6"/>
<circle cx="732.8" cy="363.6" r="3.3" fill="#88B52C"/>
<circle cx="803.4" cy="366" r="3.3" fill="#C67DFC"/>
<circle cx="1039.6" cy="226" r="3.3" fill="#1EAEB4"/>
<circle cx="1053" cy="239.6" r="3.3" fill="#F29A92"/>
<circle cx="1059" cy="248.2" r="3.3" fill="#8A9A38"/>
<circle cx="1054.4" cy="254.4" r="3.3" fill="#88B52C"/>
<circle cx="1006.2" cy="244.4" r="3.3" fill="#6DAA1F"/>
<circle cx="1020.8" cy="243.6" r="3.3" fill="#F29A92"/>
<circle cx="1008.4" cy="255.8" r="3.3" fill="#F29A92"/>
<circle cx="979.6" cy="288.4" r="3.3" fill="#88B52C"/>
<circle cx="1032.6" cy="292.2" r="3.3" fill="#F29A92"/>
<circle cx="963.6" cy="314.4" r="3.3" fill="#6DAA1F"/>
<circle cx="1016.4" cy="318.2" r="3.3" fill="#1EAEB4"/>
<circle cx="980.4" cy="331" r="3.3" fill="#88B52C"/>
<circle cx="986.4" cy="339.8" r="3.3" fill="#B58078"/>
<circle cx="991.2" cy="353" r="3.3" fill="#6DAA1F"/>
<circle cx="988" cy="356.6" r="3.3" fill="#CC8CF9"/>
<circle cx="377.4" cy="410.6" r="3.3" fill="#E07080"/>
<circle cx="378.2" cy="417.2" r="3.3" fill="#88B52C"/>
<circle cx="278" cy="426.8" r="3.3" fill="#30C2C6"/>
<circle cx="349.2" cy="448.8" r="3.3" fill="#88B52C"/>
<circle cx="152.4" cy="514.6" r="3.3" fill="#CC8CF9"/>
<circle cx="205.4" cy="518.6" r="3.3" fill="#88B52C"/>
<circle cx="321.4" cy="530.4" r="3.3" fill="#CC8CF9"/>
<circle cx="440.2" cy="388.6" r="3.3" fill="#CC8CF9"/>
<circle cx="430.4" cy="414.6" r="3.3" fill="#6DAA1F"/>
<circle cx="431.2" cy="421" r="3.3" fill="#98BF45"/>
<circle cx="442.4" cy="417.8" r="3.3" fill="#CC8CF9"/>
<circle cx="497.8" cy="409.4" r="3.3" fill="#B58078"/>
<circle cx="554.4" cy="374.8" r="3.3" fill="#CC8CF9"/>
<circle cx="560.6" cy="383.4" r="3.3" fill="#8A9A38"/>
<circle cx="551" cy="413.4" r="3.3" fill="#8A9A38"/>
<circle cx="613.6" cy="387.2" r="3.3" fill="#2BA8CF"/>
<circle cx="680.5" cy="382" r="3.3" fill="#9C86F2"/>
<circle cx="654.4" cy="406.4" r="3.3" fill="#8A9A38"/>
<circle cx="587.2" cy="434.6" r="3.3" fill="#F07A6E"/>
<circle cx="582.6" cy="441" r="3.3" fill="#30C2C6"/>
<circle cx="600.2" cy="441" r="3.3" fill="#F29A92"/>
<circle cx="640.2" cy="438.4" r="3.3" fill="#8A9A38"/>
<circle cx="641" cy="445" r="3.3" fill="#88B52C"/>
<circle cx="638.4" cy="463.4" r="3.3" fill="#8A9A38"/>
<circle cx="611.8" cy="476.6" r="3.3" fill="#E07080"/>
<circle cx="674.6" cy="484.6" r="3.3" fill="#88B52C"/>
<circle cx="658.4" cy="507.4" r="3.3" fill="#1EAEB4"/>
<circle cx="598" cy="514.6" r="3.3" fill="#CC8CF9"/>
<circle cx="661" cy="523" r="3.3" fill="#8A9A38"/>
<circle cx="422.4" cy="531" r="3.3" fill="#88B52C"/>
<circle cx="475.4" cy="535" r="3.3" fill="#2AB39A"/>
<circle cx="595.6" cy="533.6" r="3.3" fill="#30C2C6"/>
<circle cx="682.8" cy="368.4" r="3.3" fill="#8A9A38"/>
<circle cx="734" cy="386" r="3.3" fill="#8A9A38"/>
<circle cx="839.4" cy="385" r="3.3" fill="#30C2C6"/>
<circle cx="919.6" cy="373.2" r="3.3" fill="#CC8CF9"/>
<circle cx="906.8" cy="379.8" r="3.3" fill="#30C2C6"/>
<circle cx="924" cy="387.6" r="3.3" fill="#2AB39A"/>
<circle cx="957.8" cy="377.6" r="3.3" fill="#88B52C"/>
<circle cx="960" cy="384" r="3.3" fill="#CC8CF9"/>
<circle cx="953.2" cy="397.6" r="3.3" fill="#CC8CF9"/>
<circle cx="937.6" cy="401.4" r="3.3" fill="#8A9A38"/>
<circle cx="928.8" cy="408.6" r="3.3" fill="#8A9A38"/>
<circle cx="943.6" cy="409.6" r="3.3" fill="#9C86F2"/>
<circle cx="890.6" cy="406" r="3.3" fill="#F07A6E"/>
<circle cx="905.4" cy="405.2" r="3.3" fill="#88B52C"/>
<circle cx="886" cy="412.2" r="3.3" fill="#88B52C"/>
<circle cx="893.2" cy="417.4" r="3.3" fill="#30C2C6"/>
<circle cx="770.2" cy="407" r="3.3" fill="#8A9A38"/>
<circle cx="785" cy="406.4" r="3.3" fill="#F29A92"/>
<circle cx="783.4" cy="413.6" r="3.3" fill="#D8855C"/>
<circle cx="808.4" cy="410" r="3.3" fill="#F07A6E"/>
<circle cx="820.6" cy="407" r="3.3" fill="#88B52C"/>
<circle cx="823.2" cy="411.2" r="3.3" fill="#B58078"/>
<circle cx="775.2" cy="420.6" r="3.3" fill="#88B52C"/>
<circle cx="791.2" cy="422.2" r="3.3" fill="#88B52C"/>
<circle cx="705.6" cy="424" r="3.3" fill="#CC8CF9"/>
<circle cx="707.6" cy="433.2" r="3.3" fill="#E07080"/>
<circle cx="754.4" cy="428.6" r="3.3" fill="#CC8CF9"/>
<circle cx="760.4" cy="437.2" r="3.3" fill="#B585C8"/>
<circle cx="742" cy="445.2" r="3.3" fill="#6DAA1F"/>
<circle cx="765.4" cy="450.8" r="3.3" fill="#F29A92"/>
<circle cx="795" cy="449.2" r="3.3" fill="#2BA8CF"/>
<circle cx="723.8" cy="461.4" r="3.3" fill="#F29A92"/>
<circle cx="857.8" cy="457.4" r="3.3" fill="#F07A6E"/>
<circle cx="877.8" cy="465.8" r="3.3" fill="#30C2C6"/>
<circle cx="940.6" cy="439.8" r="3.3" fill="#8A9A38"/>
<circle cx="900.4" cy="446.8" r="3.3" fill="#88B52C"/>
<circle cx="915.2" cy="447.8" r="3.3" fill="#2AB39A"/>
<circle cx="920.4" cy="448.8" r="3.3" fill="#F29A92"/>
<circle cx="911" cy="461.2" r="3.3" fill="#1EAEB4"/>
<circle cx="906" cy="467.6" r="3.3" fill="#F29A92"/>
<circle cx="727.6" cy="488.4" r="3.3" fill="#6DAA1F"/>
<circle cx="718.6" cy="513.6" r="3.3" fill="#1EAEB4"/>
<circle cx="778.6" cy="506.4" r="3.3" fill="#30C2C6"/>
<circle cx="884" cy="505.4" r="3.3" fill="#B58078"/>
<circle cx="815.2" cy="527.4" r="3.3" fill="#D8855C"/>
<circle cx="834.2" cy="525.6" r="3.3" fill="#30C2C6"/>
<circle cx="868" cy="531.4" r="3.3" fill="#F07A6E"/>
<circle cx="950" cy="525.4" r="3.3" fill="#30C2C6"/>
<circle cx="983.4" cy="369.6" r="3.3" fill="#D8855C"/>
<circle cx="1103.8" cy="368.6" r="3.3" fill="#D8855C"/>
<circle cx="1061.4" cy="438.4" r="3.3" fill="#2AB39A"/>
<circle cx="1056.4" cy="444.8" r="3.3" fill="#30C2C6"/>
<circle cx="1031.2" cy="460" r="3.3" fill="#F07A6E"/>
<circle cx="1004.8" cy="504.2" r="3.3" fill="#F29A92"/>
<circle cx="988.6" cy="530" r="3.3" fill="#D8855C"/>
<circle cx="983.6" cy="536" r="3.3" fill="#1EAEB4"/>
<circle cx="225.6" cy="597" r="3.3" fill="#B585C8"/>
<circle cx="278.4" cy="600.6" r="3.3" fill="#C67DFC"/>
<circle cx="250.2" cy="638.8" r="3.3" fill="#F29A92"/>
<circle cx="400" cy="599.4" r="3.3" fill="#88B52C"/>
<circle cx="415.2" cy="542.4" r="3.3" fill="#CC8CF9"/>
<circle cx="531" cy="554.4" r="3.3" fill="#2BA8CF"/>
<circle cx="632" cy="555" r="3.3" fill="#6DAA1F"/>
<circle cx="468.6" cy="602.4" r="3.3" fill="#F29A92"/>
<circle cx="435.2" cy="620.6" r="3.3" fill="#F29A92"/>
<circle cx="488.4" cy="624.6" r="3.3" fill="#D8855C"/>
<circle cx="618.4" cy="593.4" r="3.3" fill="#2AB39A"/>
<circle cx="671.2" cy="597.2" r="3.3" fill="#9C86F2"/>
<circle cx="608.6" cy="623.2" r="3.3" fill="#88B52C"/>
<circle cx="685.2" cy="558.8" r="3.3" fill="#6DAA1F"/>
<circle cx="805.4" cy="557.6" r="3.3" fill="#1EAEB4"/>
<circle cx="791.8" cy="596" r="3.3" fill="#9C86F2"/>
<circle cx="758.8" cy="647.4" r="3.3" fill="#D8855C"/>
<circle cx="323.3" cy="721.1" r="3.3" fill="#8A9A38"/>
<circle cx="533" cy="745" r="3.3" fill="#F07A6E"/>
<circle cx="716.4" cy="717.6" r="3.3" fill="#D8855C"/>
<circle cx="750" cy="363.2" r="3.3" fill="#88B52C"/>
<g stroke="#F8766D" stroke-width="1.8"><line x1="799.1" y1="388.3" x2="827.3000000000001" y2="388.3"/><line x1="813.2" y1="374.2" x2="813.2" y2="402.40000000000003"/><line x1="803.2" y1="378.3" x2="823.2" y2="398.3"/><line x1="803.2" y1="398.3" x2="823.2" y2="378.3"/></g>
<g stroke="#7CAE00" stroke-width="1.8"><line x1="778.8" y1="354.9" x2="807.0" y2="354.9"/><line x1="792.9" y1="340.79999999999995" x2="792.9" y2="369.0"/><line x1="782.9" y1="344.9" x2="802.9" y2="364.9"/><line x1="782.9" y1="364.9" x2="802.9" y2="344.9"/></g>
<g stroke="#00BFC4" stroke-width="1.8"><line x1="734.6999999999999" y1="357.8" x2="762.9" y2="357.8"/><line x1="748.8" y1="343.7" x2="748.8" y2="371.90000000000003"/><line x1="738.8" y1="347.8" x2="758.8" y2="367.8"/><line x1="738.8" y1="367.8" x2="758.8" y2="347.8"/></g>
<g stroke="#C77CFF" stroke-width="1.8"><line x1="686.3" y1="338.1" x2="714.5" y2="338.1"/><line x1="700.4" y1="324.0" x2="700.4" y2="352.20000000000005"/><line x1="690.4" y1="328.1" x2="710.4" y2="348.1"/><line x1="690.4" y1="348.1" x2="710.4" y2="328.1"/></g>
<rect x="104.3" y="15.5" width="1077.5" height="763.6" fill="none" stroke="#333333" stroke-width="1.5"/>
<line x1="96.1" y1="73.5" x2="104.3" y2="73.5" stroke="#333333" stroke-width="2.3"/>
<text x="91.3" y="81.9" text-anchor="end" class="tk">1.0</text>
<line x1="96.1" y1="216.6" x2="104.3" y2="216.6" stroke="#333333" stroke-width="2.3"/>
<text x="91.3" y="225.0" text-anchor="end" class="tk">0.5</text>
<line x1="96.1" y1="359.7" x2="104.3" y2="359.7" stroke="#333333" stroke-width="2.3"/>
<text x="91.3" y="368.1" text-anchor="end" class="tk">0.0</text>
<line x1="96.1" y1="502.8" x2="104.3" y2="502.8" stroke="#333333" stroke-width="2.3"/>
<text x="91.3" y="511.2" text-anchor="end" class="tk">-0.5</text>
<line x1="96.1" y1="645.9" x2="104.3" y2="645.9" stroke="#333333" stroke-width="2.3"/>
<text x="91.3" y="654.3" text-anchor="end" class="tk">-1.0</text>
<line x1="287.3" y1="779.1" x2="287.3" y2="787.0" stroke="#333333" stroke-width="2.3"/>
<text x="287.3" y="809.6" text-anchor="middle" class="tk">-1.0</text>
<line x1="527.5" y1="779.1" x2="527.5" y2="787.0" stroke="#333333" stroke-width="2.3"/>
<text x="527.5" y="809.6" text-anchor="middle" class="tk">-0.5</text>
<line x1="767.8" y1="779.1" x2="767.8" y2="787.0" stroke="#333333" stroke-width="2.3"/>
<text x="767.8" y="809.6" text-anchor="middle" class="tk">0.0</text>
<line x1="1008.0" y1="779.1" x2="1008.0" y2="787.0" stroke="#333333" stroke-width="2.3"/>
<text x="1008.0" y="809.6" text-anchor="middle" class="tk">0.5</text>
<text x="642.5" y="842.5" text-anchor="middle" class="ti">dim 1 (67.3 %)</text>
<text transform="translate(36.8,398.3) rotate(-90)" text-anchor="middle" class="ti">dim 2 (22.6 %)</text>
<line x1="1231.2" y1="349.4" x2="1268.2" y2="349.4" stroke="#F8766D" stroke-width="2.9"/>
<g stroke="#F8766D" stroke-width="1.8"><line x1="1235.6000000000001" y1="349.4" x2="1263.8" y2="349.4"/><line x1="1249.7" y1="335.29999999999995" x2="1249.7" y2="363.5"/><line x1="1239.7" y1="339.4" x2="1259.7" y2="359.4"/><line x1="1239.7" y1="359.4" x2="1259.7" y2="339.4"/></g>
<text transform="translate(1286.6,357.8) scale(0.98,1)" class="lg">None</text>
<line x1="1231.2" y1="395.5" x2="1268.2" y2="395.5" stroke="#7CAE00" stroke-width="2.9"/>
<g stroke="#7CAE00" stroke-width="1.8"><line x1="1235.6000000000001" y1="395.5" x2="1263.8" y2="395.5"/><line x1="1249.7" y1="381.4" x2="1249.7" y2="409.6"/><line x1="1239.7" y1="385.5" x2="1259.7" y2="405.5"/><line x1="1239.7" y1="405.5" x2="1259.7" y2="385.5"/></g>
<text transform="translate(1286.6,403.9) scale(0.98,1)" class="lg">Low</text>
<line x1="1231.2" y1="441.6" x2="1268.2" y2="441.6" stroke="#00BFC4" stroke-width="2.9"/>
<g stroke="#00BFC4" stroke-width="1.8"><line x1="1235.6000000000001" y1="441.6" x2="1263.8" y2="441.6"/><line x1="1249.7" y1="427.5" x2="1249.7" y2="455.70000000000005"/><line x1="1239.7" y1="431.6" x2="1259.7" y2="451.6"/><line x1="1239.7" y1="451.6" x2="1259.7" y2="431.6"/></g>
<text transform="translate(1286.6,450.0) scale(0.98,1)" class="lg">Medium</text>
<line x1="1231.2" y1="487.7" x2="1268.2" y2="487.7" stroke="#C77CFF" stroke-width="2.9"/>
<g stroke="#C77CFF" stroke-width="1.8"><line x1="1235.6000000000001" y1="487.7" x2="1263.8" y2="487.7"/><line x1="1249.7" y1="473.59999999999997" x2="1249.7" y2="501.8"/><line x1="1239.7" y1="477.7" x2="1259.7" y2="497.7"/><line x1="1239.7" y1="497.7" x2="1259.7" y2="477.7"/></g>
<text transform="translate(1286.6,496.1) scale(0.98,1)" class="lg">High</text>
</svg></body></html>
